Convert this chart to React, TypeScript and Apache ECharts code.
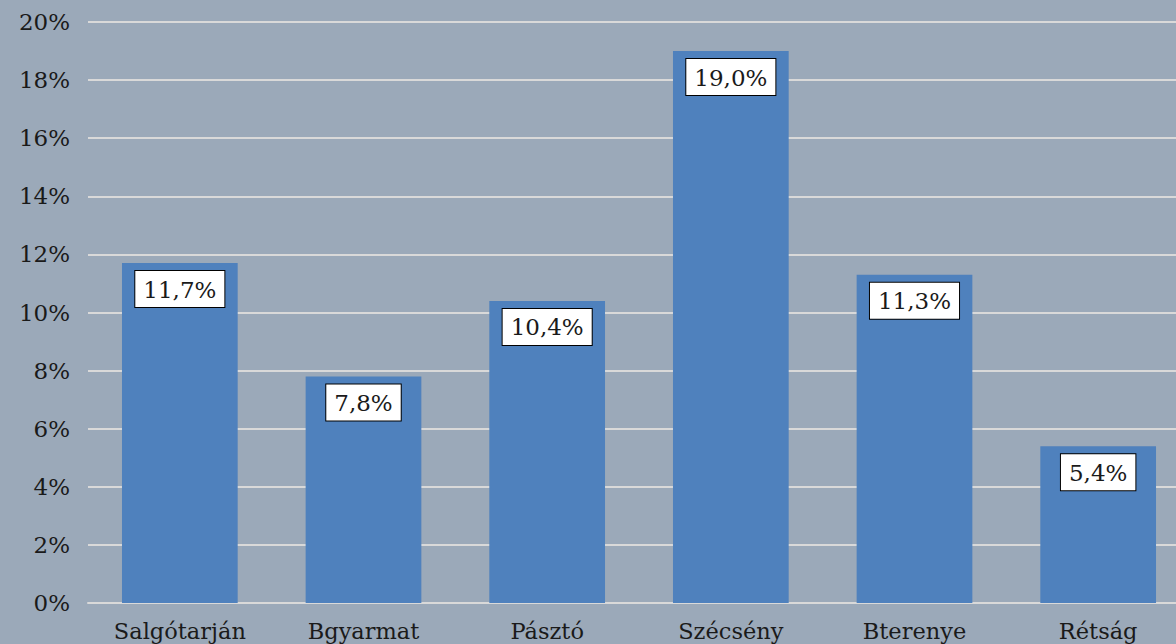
import React, { useEffect, useRef } from "react";
import * as echarts from "echarts";

const categories = ["Salgótarján", "Bgyarmat", "Pásztó", "Szécsény", "Bterenye", "Rétság"];
const values = [11.7, 7.8, 10.4, 19.0, 11.3, 5.4];
const yTicks = [0, 2, 4, 6, 8, 10, 12, 14, 16, 18, 20];

const FONT = "DejaVu Serif";

export default function App() {
  const ref = useRef<HTMLDivElement>(null);
  useEffect(() => {
    if (!ref.current) return;
    const chart = echarts.init(ref.current, undefined, { renderer: "svg" });
    chart.setOption({
      animation: false,
      backgroundColor: "#9BA9B9",
      grid: { left: 88, right: 0, top: 22, bottom: 41, containLabel: false },
      xAxis: {
        type: "category",
        data: categories,
        axisLine: { show: true, lineStyle: { color: "#D9D9D9", width: 2 } },
        axisTick: { show: false },
        axisLabel: { color: "#1a1a1a", fontFamily: FONT, fontSize: 22.5, margin: 16 },
      },
      yAxis: {
        type: "value",
        min: yTicks[0],
        max: yTicks[yTicks.length - 1],
        interval: 2,
        axisLine: { show: false },
        axisTick: { show: false },
        splitLine: { lineStyle: { color: "#D9D9D9", width: 2 } },
        axisLabel: {
          color: "#1a1a1a",
          fontFamily: FONT,
          fontSize: 23,
          margin: 18,
          formatter: (v: number) => `${v}%`,
        },
      },
      series: [
        {
          type: "bar",
          data: values,
          barCategoryGap: "37%",
          itemStyle: { color: "#4F81BD" },
          label: {
            show: true,
            position: "insideTop",
            distance: 8,
            color: "#1a1a1a",
            fontFamily: FONT,
            fontSize: 23,
            backgroundColor: "#FFFFFF",
            borderColor: "#000000",
            borderWidth: 1,
            padding: [7, 8, 6, 8],
            formatter: (p: any) => `${p.value.toFixed(1).replace(".", ",")}%`,
          },
        },
      ],
    });
    return () => chart.dispose();
  }, []);
  return (
    <div style={{ position: "fixed", left: 0, top: 0, width: 1176, height: 644, overflow: "hidden" }}>
      <div ref={ref} style={{ width: 1190, height: 644 }} />
    </div>
  );
}
